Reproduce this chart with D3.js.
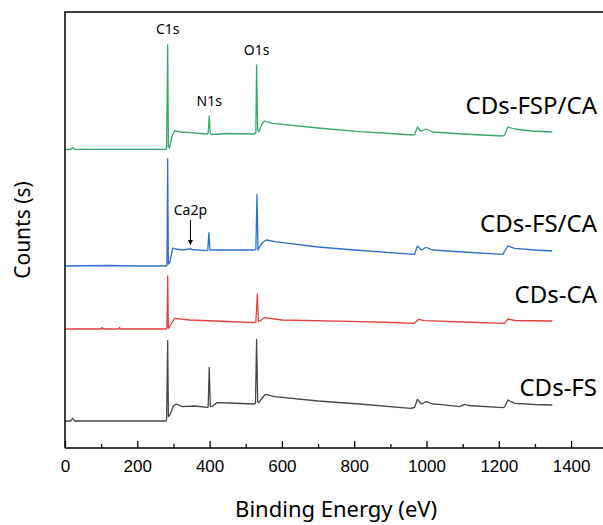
<!DOCTYPE html>
<html>
<head>
<meta charset="utf-8">
<script src="https://cdn.jsdelivr.net/npm/d3@7/dist/d3.min.js"></script>
<style>
  body { margin: 0; background: #fff; }
  svg { display: block; font-family: "Noto Sans", "Open Sans", sans-serif; }
</style>
</head>
<body>
<div id="chart"></div>
<script>
// XPS survey spectra, binding energy (eV) vs counts (arbitrary units, traces already stacked)
var seriesNames = ["CDs-FSP/CA", "CDs-FS/CA", "CDs-CA", "CDs-FS"];

var fspcaData = [[0,298.7],[15,298.5],[21,300.5],[27,298.7],[276,298.7],[281,299],[284,403],[286,301.3],[289,300],
    [296,312],[303,317.3],[320,316],[345,315.3],[393,314],[396,315],[399,332],[402,314],[406,313.5],[450,314.5],
    [524,314],[528,316],[530,383],[533,318],[536,316.3],[545,324],[552,327],[574,324.7],[700,320],[815,316.3],
    [900,314.5],[960,313],[967,313.5],[975,321],[983,317],[986,317],[999,319],[1017,316],[1100,314],[1211,312],
    [1216,313],[1225,321],[1244,319],[1290,317],[1348,316]];

var fscaData = [[0,182],[120,182.5],[200,182],[280,182],[282,183],[284,289],[286,184],[290,186],[298,200],[305,199],
    [325,198],[345,199],[347,199.7],[350,198.5],[392,197.3],[395,198],[398,215.3],[401,198],[406,198],[450,198],
    [524,198],[528,198.5],[531,253.7],[534,198],[538,201.3],[548,206],[557,208],[580,206.3],[700,201],[800,198],
    [967,193.7],[975,202],[986,198],[999,200.7],[1017,198],[1100,196],[1211,193.7],[1225,202],[1244,199.7],
    [1300,198],[1348,197]];

var caData = [[0,119],[100,119],[103,120.5],[106,119],[148,119],[151,120.5],[154,119],[280,119],[282,120],[284,172],
    [286,119.7],[290,122],[303,129.7],[345,128],[450,126.5],[524,125.3],[528,126],[532,154],[535,126.3],[552,130.3],
    [600,128],[815,126.3],[900,125.5],[967,124.7],[978,128.7],[995,127.3],[1100,126],[1216,124.7],[1225,129],
    [1244,127.5],[1348,127]];

var fsData = [[0,27],[15,27],[21,29.7],[27,27],[278,27],[281,28],[284,107.3],[286,31.3],[290,33],[300,42],[308,44],
    [325,41.3],[358,42],[394,40.7],[396,41],[399,80.7],[402,41.3],[406,41.3],[420,45.3],[450,45],[524,44],[527,45],
    [530,108.7],[533,46.5],[536,45.3],[548,51],[554,53.7],[580,51.3],[700,47],[815,44],[956,39.7],[967,40.5],
    [975,48.7],[986,44],[999,46.3],[1017,44],[1036,43.7],[1092,41.3],[1105,43.7],[1115,42.5],[1211,40.3],
    [1216,41],[1225,48],[1244,44.7],[1300,43.5],[1348,43]];

var seriesColors = ["#3aa76d", "#2f6fd0", "#e2423f", "#474747"];
var labelLevels = [334, 216, 145, 52];   // where each sample name sits (counts)

var majorTicks = [0, 200, 400, 600, 800, 1000, 1200, 1400];
var minorTicks = [100, 300, 500, 700, 900, 1100, 1300];

var peakNames = ["C1s", "N1s", "O1s"];
var peakEnergies = [284, 399, 530];
var peakLabelLevels = [414, 342, 393];

function start(){
    var width = 603, height = 525;
    var margin = {top: 12, left: 65, bottom: 77};

    var svg = d3.select("#chart").append("svg")
        .attr("width", width)
        .attr("height", height);

    var x = d3.scaleLinear()
        .domain([0, 1500])
        .range([margin.left, margin.left + 0.3615 * 1500]);
    var y = d3.scaleLinear()
        .domain([0, 436])
        .range([height - margin.bottom, margin.top]);

    var allData = [fspcaData, fscaData, caData, fsData];

    var line = d3.line()
        .x(function(d){ return x(d[0]); })
        .y(function(d){ return y(d[1]); });

    svg.append("g")
        .selectAll("path")
        .data(allData)
        .enter().append("path")
        .attr("d", line)
        .attr("fill", "none")
        .attr("stroke", function(d, i){ return seriesColors[i]; })
        .attr("stroke-width", 1.3)
        .attr("stroke-linejoin", "round");

    // frame: left and top only (right side runs past the picture)
    svg.append("path")
        .attr("d", "M" + x(0) + "," + y(0) + "V" + y(436) + "H" + width)
        .attr("fill", "none")
        .attr("stroke", "#000")
        .attr("stroke-width", 1.5);

    var xAxis = svg.append("g")
        .attr("transform", "translate(0," + y(0) + ")")
        .call(d3.axisBottom(x).tickValues(majorTicks).tickFormat(d3.format("d"))
            .tickSizeInner(-7).tickSizeOuter(0).tickPadding(12));
    xAxis.select(".domain").attr("stroke-width", 1.5).attr("d", "M" + x(0) + ",0H" + width);
    xAxis.selectAll(".tick line").attr("stroke-width", 1.3);
    xAxis.selectAll("text").style("font-size", "17px").attr("fill", "#000");

    var minor = svg.append("g")
        .attr("transform", "translate(0," + y(0) + ")")
        .call(d3.axisBottom(x).tickValues(minorTicks).tickSizeInner(-4).tickSizeOuter(0).tickFormat(""));
    minor.select(".domain").remove();
    minor.selectAll(".tick line").attr("stroke-width", 1.3);

    // sample names on the right
    svg.selectAll("text.series")
        .data(seriesNames)
        .enter().append("text")
        .attr("class", "series")
        .attr("x", 597)
        .attr("y", function(d, i){ return y(labelLevels[i]); })
        .attr("text-anchor", "end")
        .style("font-size", "24px")
        .text(function(d){ return d; });

    // peak labels
    svg.selectAll("text.peak")
        .data(peakNames)
        .enter().append("text")
        .attr("class", "peak")
        .attr("x", function(d, i){ return x(peakEnergies[i]); })
        .attr("y", function(d, i){ return y(peakLabelLevels[i]); })
        .attr("text-anchor", "middle")
        .style("font-size", "14px")
        .text(function(d){ return d; });

    // Ca2p marker on CDs-FS/CA
    svg.append("defs").append("marker")
        .attr("id", "arrow")
        .attr("viewBox", "0 0 10 10")
        .attr("refX", 10).attr("refY", 5)
        .attr("markerWidth", 5).attr("markerHeight", 6)
        .attr("orient", "auto")
        .append("path").attr("d", "M0,0L10,5L0,10z").attr("fill", "#000");
    svg.append("line")
        .attr("x1", x(347)).attr("x2", x(347))
        .attr("y1", y(228)).attr("y2", y(203))
        .attr("stroke", "#000").attr("stroke-width", 1)
        .attr("marker-end", "url(#arrow)");
    svg.append("text")
        .attr("x", x(347))
        .attr("y", y(233))
        .attr("text-anchor", "middle")
        .style("font-size", "14px")
        .text("Ca2p");

    svg.append("text")
        .attr("x", x(750))
        .attr("y", 517)
        .attr("text-anchor", "middle")
        .style("font-size", "22px")
        .text("Binding Energy (eV)");

    svg.append("g")
        .attr("transform", "translate(30," + y(218) + ")")
        .append("text")
        .attr("text-anchor", "middle")
        .attr("transform", "rotate(-90)")
        .style("font-size", "21px")
        .text("Counts (s)");
}

start()
</script>
</body>
</html>
